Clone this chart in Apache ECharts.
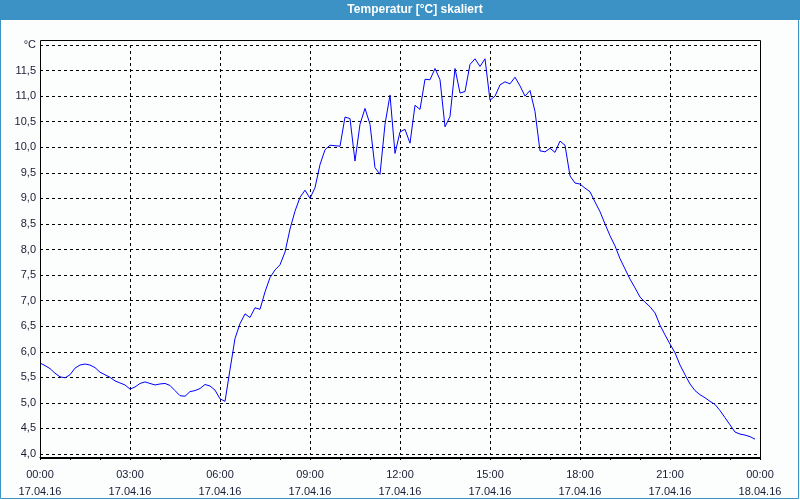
<!DOCTYPE html>
<html>
<head>
<meta charset="utf-8">
<script src="https://cdn.jsdelivr.net/npm/echarts@6/dist/echarts.min.js"></script>
<style>
html,body{margin:0;padding:0;background:#fbfefd;}
#chart{width:800px;height:500px;}
</style>
</head>
<body>
<div id="chart"></div>
<script>
// Title
var chartTitle = 'Temperatur [°C] skaliert';
// Sample step in minutes (10-minute readings from 00:00 on 17.04.16)
var stepMinutes = 10;
// Temperature values (°C), one per 10 minutes
var temps = [
  5.78, 5.73, 5.67, 5.58, 5.51, 5.49, 5.55, 5.68, 5.74, 5.76,
  5.74, 5.69, 5.60, 5.55, 5.50, 5.43, 5.39, 5.35, 5.27, 5.31,
  5.38, 5.41, 5.38, 5.35, 5.37, 5.38, 5.34, 5.24, 5.14, 5.13,
  5.22, 5.24, 5.28, 5.36, 5.33, 5.25, 5.08, 5.03, 5.65, 6.26,
  6.55, 6.74, 6.67, 6.86, 6.83, 7.17, 7.45, 7.60, 7.70, 7.95,
  8.40, 8.75, 9.02, 9.16, 9.00, 9.21, 9.66, 9.95, 10.04, 10.03,
  10.02, 10.59, 10.56, 9.73, 10.45, 10.76, 10.45, 9.60, 9.47, 10.45,
  11.02, 9.88, 10.30, 10.35, 10.08, 10.82, 10.74, 11.33, 11.32, 11.54,
  11.32, 10.40, 10.60, 11.54, 11.06, 11.09, 11.62, 11.73, 11.58, 11.73,
  10.92, 11.00, 11.22, 11.28, 11.24, 11.37, 11.20, 11.00, 11.11, 10.70,
  9.93, 9.91, 9.98, 9.90, 10.12, 10.04, 9.44, 9.30, 9.28, 9.20,
  9.13, 8.93, 8.74, 8.50, 8.27, 8.07, 7.82, 7.62, 7.42, 7.25,
  7.07, 6.97, 6.88, 6.76, 6.52, 6.33, 6.15, 5.98, 5.74, 5.55,
  5.37, 5.24, 5.16, 5.10, 5.03, 4.97, 4.85, 4.71, 4.57, 4.43,
  4.39, 4.37, 4.34, 4.29
];
// X tick labels (every 3 hours)
var xTickTimes = ['00:00','03:00','06:00','09:00','12:00','15:00','18:00','21:00','00:00'];
var xTickDates = ['17.04.16','17.04.16','17.04.16','17.04.16','17.04.16','17.04.16','17.04.16','17.04.16','18.04.16'];
// Y axis
var yMin = 4, yMax = 12, yStep = 0.5, yTopLabel = '°C';

var data = temps.map(function(v, i){ return [i * stepMinutes, v]; });

var chart = echarts.init(document.getElementById('chart'), null, {renderer:'canvas'});
var font = 'Liberation Sans';
var txtColor = '#1a1a33';
chart.setOption({
  animation: false,
  backgroundColor: '#fbfefd',
  textStyle: {fontFamily: font},
  graphic: [
    {type:'rect', shape:{x:0,y:0,width:800,height:20}, style:{fill:'#3c92c5'}, z:0},
    {type:'text', x:415, y:10, style:{text:chartTitle, fill:'#ffffff', font:'bold 12px "Liberation Sans", sans-serif', textAlign:'center', textVerticalAlign:'middle'}, z:1},
    {type:'rect', shape:{x:0.5,y:0.5,width:798,height:498}, style:{fill:null, stroke:'#3c92c5', lineWidth:1}, z:1},
    {type:'rect', shape:{x:40.5,y:40.5,width:720,height:418}, style:{fill:null, stroke:'#000000', lineWidth:1}, z:10}
  ],
  grid: {left:40, right:40, top:45, bottom:44, containLabel:false},
  xAxis: {
    type:'value', min:0, max:1440, interval:180,
    offset: 3,
    axisLine:{show:true, lineStyle:{color:'#000', width:1}},
    axisTick:{show:true, length:3, lineStyle:{color:'#000'}},
    minorTick:{show:true, splitNumber:3, length:3, lineStyle:{color:'#000'}},
    axisLabel:{
      color: txtColor, fontSize:11, fontFamily:font, lineHeight:17, margin:9,
      formatter:function(v){ var k = Math.round(v/180); return xTickTimes[k] + '\n' + xTickDates[k]; }
    },
    splitLine:{show:true, lineStyle:{color:'#000', type:[3,3], width:1}}
  },
  yAxis: {
    type:'value', min:yMin, max:yMax, interval:yStep,
    axisLine:{show:false},
    axisTick:{show:false},
    axisLabel:{
      color: txtColor, fontSize:11, fontFamily:font, margin:4,
      formatter:function(v){ if (Math.abs(v - yMax) < 1e-6) return yTopLabel; return v.toFixed(1).replace('.', ','); }
    },
    splitLine:{show:true, lineStyle:{color:'#000', type:[3,3], width:1}}
  },
  series: [{
    type:'line', data:data, showSymbol:false, symbol:'none',
    lineStyle:{color:'#0000ff', width:1},
    z:5
  }]
});
</script>
</body>
</html>
